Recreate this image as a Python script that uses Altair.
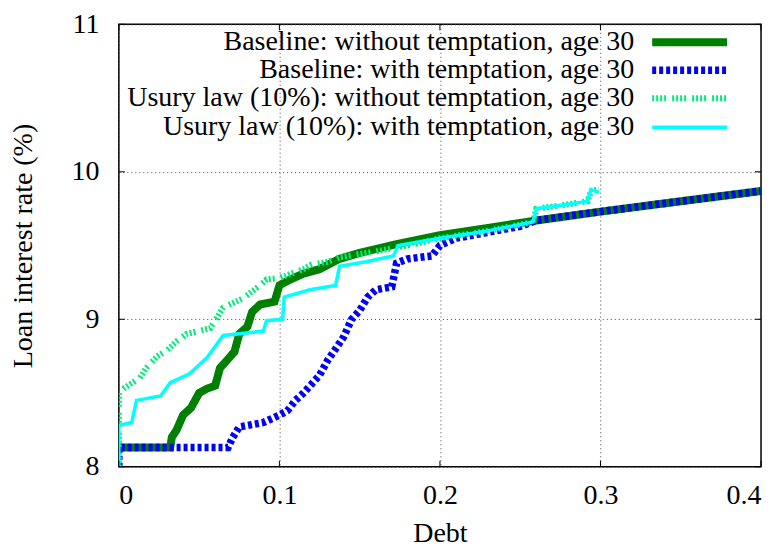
import altair as alt
import pandas as pd

FONT = "Liberation Serif"
FS = 28

labels = [
    "Baseline: without temptation, age 30",
    "Baseline: with temptation, age 30",
    "Usury law (10%): without temptation, age 30",
    "Usury law (10%): with temptation, age 30",
]

base_wo_x = [0, 0.032, 0.033, 0.036, 0.04, 0.045, 0.05, 0.055, 0.06, 0.063, 0.068, 0.072, 0.075,
             0.08, 0.083, 0.088, 0.097, 0.1, 0.105, 0.115, 0.125, 0.1375, 0.15, 0.173, 0.2, 0.23,
             0.26, 0.3, 0.35, 0.4]
base_wo_y = [8.13, 8.13, 8.2, 8.25, 8.35, 8.4, 8.5, 8.53, 8.55, 8.67, 8.73, 8.78, 8.9,
             8.95, 9.05, 9.1, 9.12, 9.23, 9.26, 9.31, 9.34, 9.41, 9.45, 9.51, 9.57, 9.62,
             9.67, 9.73, 9.8, 9.87]

base_w_x = [0, 0, 0.068, 0.071, 0.075, 0.09, 0.1, 0.105, 0.11, 0.115, 0.12, 0.125, 0.13, 0.135,
            0.14, 0.145, 0.15, 0.155, 0.16, 0.17, 0.173, 0.18, 0.195, 0.2, 0.21, 0.23, 0.25,
            0.26, 0.3, 0.35, 0.4]
base_w_y = [8.0, 8.13, 8.13, 8.2, 8.27, 8.3, 8.35, 8.38, 8.45, 8.5, 8.56, 8.62, 8.72, 8.8,
            8.88, 9.0, 9.06, 9.15, 9.2, 9.22, 9.38, 9.41, 9.43, 9.5, 9.55, 9.59, 9.63,
            9.67, 9.73, 9.8, 9.87]

usury_wo_x = [0, 0, 0.003, 0.007, 0.013, 0.017, 0.024, 0.03, 0.036, 0.042, 0.057, 0.061, 0.065,
              0.077, 0.088, 0.092, 0.1, 0.115, 0.12, 0.13, 0.1375, 0.16, 0.18, 0.2, 0.23, 0.258,
              0.26, 0.28, 0.292, 0.294, 0.299]
usury_wo_y = [8.0, 8.5, 8.53, 8.56, 8.6, 8.67, 8.75, 8.79, 8.85, 8.9, 8.94, 9.01, 9.08,
              9.14, 9.23, 9.27, 9.28, 9.34, 9.37, 9.39, 9.42, 9.46, 9.5, 9.55, 9.6, 9.66,
              9.75, 9.78, 9.8, 9.87, 9.88]

usury_w_x = [0, 0, 0.008, 0.011, 0.026, 0.032, 0.044, 0.055, 0.065, 0.09, 0.092, 0.102, 0.103,
             0.119, 0.135, 0.1375, 0.154, 0.171, 0.174, 0.2, 0.23, 0.258, 0.26, 0.28, 0.292,
             0.294, 0.299]
usury_w_y = [8.0, 8.28, 8.3, 8.45, 8.48, 8.57, 8.63, 8.74, 8.89, 8.92, 8.99, 9.0, 9.15,
             9.2, 9.23, 9.36, 9.39, 9.43, 9.5, 9.55, 9.6, 9.66, 9.75, 9.78, 9.8,
             9.88, 9.86]

x_ticks = [0, 0.1, 0.2, 0.3, 0.4]
y_ticks = [8, 9, 10, 11]

colors = ["#008000", "#0000ff", "#00ee77", "#00ffff"]
widths = [8, 7.5, 6, 3.5]
dashes = [None, [4, 3], [2, 2, 2, 2, 2, 2, 2, 6], None]
series = [(base_wo_x, base_wo_y), (base_w_x, base_w_y), (usury_wo_x, usury_wo_y), (usury_w_x, usury_w_y)]

W, H = 643, 443
xs = alt.Scale(domain=[0, 0.4], nice=False, zero=False)
ys = alt.Scale(domain=[8, 11], nice=False, zero=False)

x_axis = alt.Axis(values=x_ticks, title="Debt", format="~g", grid=True,
                  gridDash=[1, 3], gridColor="#444", gridWidth=1,
                  ticks=False, domain=False, labelPadding=15,
                  labelFontSize=FS, labelFont=FONT, labelColor="black",
                  titleFont=FONT, titleFontSize=FS, titleFontWeight="normal",
                  titleColor="black", titleY=67, titleBaseline="middle")
y_axis = alt.Axis(values=y_ticks, title="Loan interest rate (%)", grid=True,
                  gridDash=[1, 3], gridColor="#444", gridWidth=1,
                  ticks=False, domain=False, labelPadding=20,
                  labelFontSize=FS, labelFont=FONT, labelColor="black",
                  titleFont=FONT, titleFontSize=FS, titleFontWeight="normal",
                  titleColor="black", titleX=-95, titleY=H / 2,
                  titleAngle=-90, titleBaseline="middle", titleAlign="center")

layers = []
for i, (sx, sy) in enumerate(series):
    df = pd.DataFrame({"x": sx, "y": sy, "o": list(range(len(sx)))})
    kw = dict(color=colors[i], strokeWidth=widths[i], clip=True)
    if dashes[i]:
        kw["strokeDash"] = dashes[i]
    line = alt.Chart(df).mark_line(**kw).encode(
        x=alt.X("x:Q", scale=xs, axis=x_axis),
        y=alt.Y("y:Q", scale=ys, axis=y_axis),
        order="o:Q")
    layers.append(line)

# inward tick marks on all four sides
xt = pd.DataFrame({"x": x_ticks})
yt = pd.DataFrame({"y": y_ticks})
for y0, y1 in [(H, H - 6), (0, 6)]:
    layers.append(alt.Chart(xt).mark_rule(color="black", strokeWidth=1).encode(
        x=alt.X("x:Q", scale=xs, axis=x_axis), y=alt.value(y0), y2=alt.value(y1)))
for x0, x1 in [(0, 6), (W, W - 6)]:
    layers.append(alt.Chart(yt).mark_rule(color="black", strokeWidth=1).encode(
        y=alt.Y("y:Q", scale=ys, axis=y_axis), x=alt.value(x0), x2=alt.value(x1)))

# key (top right, inside the plot)
row_y = [18, 46, 74, 103]
for i, lab in enumerate(labels):
    kd = pd.DataFrame({"label": [lab]})
    layers.append(alt.Chart(kd).mark_text(align="right", baseline="middle", font=FONT,
                                          fontSize=FS, color="black").encode(
        x=alt.value(516), y=alt.value(row_y[i]), text="label:N"))
    kw = dict(color=colors[i], strokeWidth=widths[i])
    if dashes[i]:
        kw["strokeDash"] = dashes[i]
    layers.append(alt.Chart(kd).mark_rule(**kw).encode(
        x=alt.value(534), x2=alt.value(609), y=alt.value(row_y[i])))

chart = alt.layer(*layers).properties(
    width=W, height=H,
    autosize=alt.AutoSizeParams(type="none"),
    padding={"left": 111, "top": 16, "right": 14, "bottom": 82},
    background="white",
).configure(font=FONT).configure_text(font=FONT).configure_view(stroke="black", strokeWidth=1.5)

chart.save("out.html", embed_options={"renderer": "svg", "actions": False})
